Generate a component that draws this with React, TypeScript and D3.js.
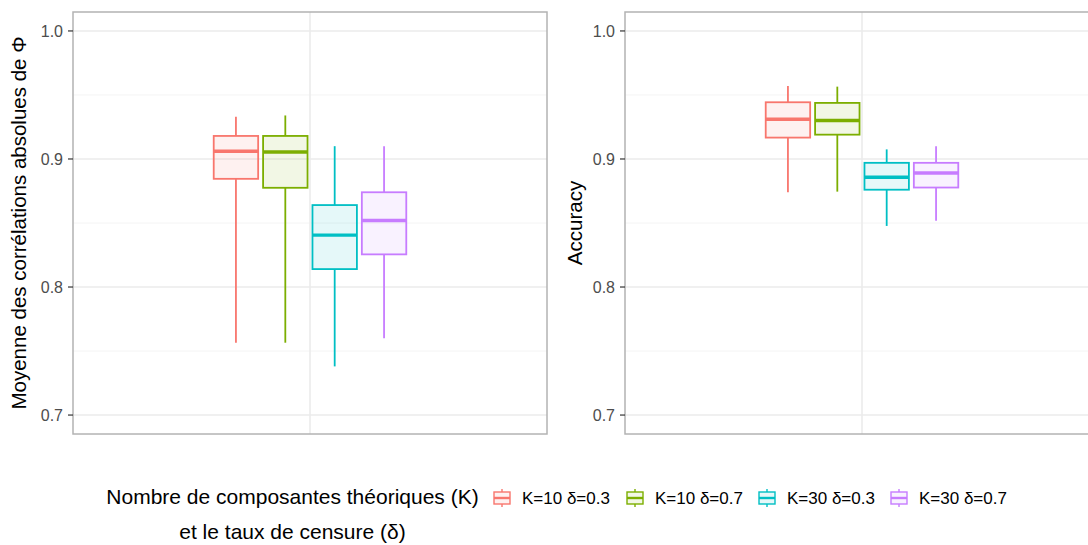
import React from 'react';
import * as d3 from 'd3';

// groups (K, δ) and ggplot hue colours
const groups = ['K=10 δ=0.3', 'K=10 δ=0.7', 'K=30 δ=0.3', 'K=30 δ=0.7'];
const colors = ['#F8766D', '#7CAE00', '#00BFC4', '#C77CFF'];

// left panel: mean absolute correlations of Φ
const corrUpper = [0.933, 0.934, 0.910, 0.910];
const corrQ3 = [0.918, 0.918, 0.864, 0.874];
const corrMedian = [0.906, 0.9055, 0.8405, 0.852];
const corrQ1 = [0.8845, 0.8775, 0.814, 0.8255];
const corrLower = [0.7565, 0.7565, 0.738, 0.760];

// right panel: accuracy
const accUpper = [0.957, 0.9565, 0.9075, 0.910];
const accQ3 = [0.9443, 0.9438, 0.897, 0.897];
const accMedian = [0.931, 0.930, 0.8857, 0.889];
const accQ1 = [0.9167, 0.919, 0.876, 0.8777];
const accLower = [0.874, 0.8745, 0.8477, 0.8518];

const yTicks = [0.7, 0.8, 0.9, 1.0];
const yMinor = [0.75, 0.85, 0.95];

const W = 1088;
const H = 545;
const top = 12;
const bottom = 434;
const font = '"Liberation Sans", Arial, sans-serif';

const y = d3.scaleLinear().domain([0.6852, 1.0148]).range([bottom, top]);

type PanelProps = {
  x0: number;
  x1: number;
  title: string;
  titleGap: number;
  lower: number[];
  q1: number[];
  median: number[];
  q3: number[];
  upper: number[];
};

const Panel = ({ x0, x1, title, titleGap, lower, q1, median, q3, upper }: PanelProps) => {
  // one discrete x position, ggplot expands by 0.6 on each side
  const x = d3.scaleLinear().domain([0.4, 1.6]).range([x0, x1]);
  const dodge = 0.5 / groups.length;
  const boxW = x(dodge * 0.9) - x(0);
  const fmt = d3.format('.1f');

  return (
    <g>
      {yMinor.map((v) => (
        <line key={'m' + v} x1={x0} x2={x1} y1={y(v)} y2={y(v)} stroke="#F4F4F4" strokeWidth={1} />
      ))}
      {yTicks.map((v) => (
        <line key={'g' + v} x1={x0} x2={x1} y1={y(v)} y2={y(v)} stroke="#EBEBEB" strokeWidth={1.6} />
      ))}
      <line x1={x(1)} x2={x(1)} y1={top} y2={bottom} stroke="#EBEBEB" strokeWidth={1.6} />

      {groups.map((g, i) => {
        const cx = x(1 + (i - 1.5) * dodge);
        return (
          <g key={g}>
            <line x1={cx} x2={cx} y1={y(upper[i])} y2={y(q3[i])} stroke={colors[i]} strokeWidth={1.8} />
            <line x1={cx} x2={cx} y1={y(q1[i])} y2={y(lower[i])} stroke={colors[i]} strokeWidth={1.8} />
            <rect
              x={cx - boxW / 2}
              y={y(q3[i])}
              width={boxW}
              height={y(q1[i]) - y(q3[i])}
              fill={colors[i]}
              fillOpacity={0.1}
              stroke={colors[i]}
              strokeWidth={1.8}
            />
            <line
              x1={cx - boxW / 2}
              x2={cx + boxW / 2}
              y1={y(median[i])}
              y2={y(median[i])}
              stroke={colors[i]}
              strokeWidth={3.4}
            />
          </g>
        );
      })}

      <rect x={x0} y={top} width={x1 - x0} height={bottom - top} fill="none" stroke="#B3B3B3" strokeWidth={1.5} />

      {yTicks.map((v) => (
        <g key={'t' + v}>
          <line x1={x0 - 5} x2={x0} y1={y(v)} y2={y(v)} stroke="#333333" strokeWidth={1.2} />
          <text
            x={x0 - 10}
            y={y(v)}
            dy="0.36em"
            textAnchor="end"
            fontSize={16}
            fill="#4D4D4D"
            fontFamily={font}
          >
            {fmt(v)}
          </text>
        </g>
      ))}

      <text
        transform={`translate(${x0 - titleGap},${(top + bottom) / 2}) rotate(-90)`}
        textAnchor="middle"
        fontSize={20.5}
        fill="#000"
        fontFamily={font}
      >
        {title}
      </text>
    </g>
  );
};

const LegendKey = ({ cx, cy, color }: { cx: number; cy: number; color: string }) => (
  <g>
    <line x1={cx} x2={cx} y1={cy - 9} y2={cy + 9} stroke={color} strokeWidth={1.4} />
    <rect x={cx - 8} y={cy - 6} width={16} height={12} fill="#fff" stroke="none" />
    <rect x={cx - 8} y={cy - 6} width={16} height={12} fill={color} fillOpacity={0.1} stroke={color} strokeWidth={1.4} />
    <line x1={cx - 8} x2={cx + 8} y1={cy} y2={cy} stroke={color} strokeWidth={2.4} />
  </g>
);

export default function App() {
  const legendY = 498;
  const keyX = [502, 635, 767, 899];

  return (
    <svg
      width={W}
      height={H}
      style={{ position: 'absolute', left: 0, top: 0, background: '#fff' }}
    >
      <rect width={W} height={H} fill="#fff" />
      <Panel
        x0={73}
        x1={547}
        title="Moyenne des corrélations absolues de Φ"
        titleGap={47}
        lower={corrLower}
        q1={corrQ1}
        median={corrMedian}
        q3={corrQ3}
        upper={corrUpper}
      />
      <Panel
        x0={625}
        x1={1099}
        title="Accuracy"
        titleGap={43}
        lower={accLower}
        q1={accQ1}
        median={accMedian}
        q3={accQ3}
        upper={accUpper}
      />

      <text textAnchor="middle" fontSize={21} fontFamily={font} fill="#000">
        <tspan x={292.5} y={legendY + 6}>Nombre de composantes théoriques (K)</tspan>
        <tspan x={292.5} y={legendY + 41}>et le taux de censure (δ)</tspan>
      </text>

      {groups.map((g, i) => (
        <g key={g}>
          <LegendKey cx={keyX[i]} cy={legendY} color={colors[i]} />
          <text x={keyX[i] + 20} y={legendY} dy="0.36em" fontSize={17} fontFamily={font} fill="#000">
            {g}
          </text>
        </g>
      ))}
    </svg>
  );
}
